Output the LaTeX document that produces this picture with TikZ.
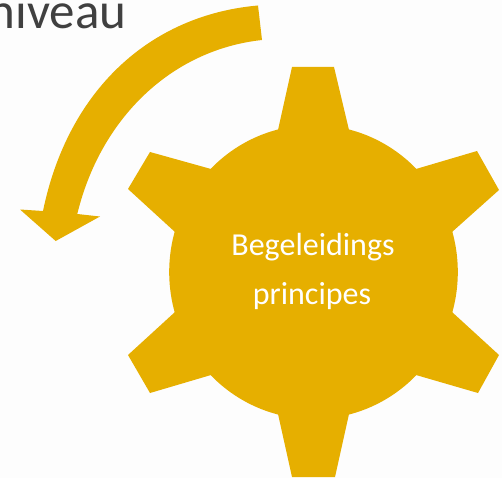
\documentclass[tikz,border=0pt]{standalone}
\usepackage{fontspec}
\setmainfont{Carlito}
\definecolor{gold}{HTML}{E6AF00}
\definecolor{pagebg}{HTML}{FDFDFD}
\definecolor{ink}{HTML}{404040}
\tikzset{shapefill/.style={fill=gold,draw=none},
lbl/.style={text=white,font=\fontsize{32}{36}\selectfont,align=center,inner sep=0pt}}
\begin{document}
\begin{tikzpicture}[x=1pt,y=-1pt]
\useasboundingbox (0,0) rectangle (502,478);
\fill[pagebg] (0,0) rectangle (502,478);
% gear
\path[shapefill] (313.5,272) ellipse [x radius=144.3, y radius=147];
\path[shapefill] (292,67) -- (334,67) -- (349,130) -- (416,169) -- (477,151) -- (499,190) -- (452,232)
 -- (452,312) -- (499,355) -- (478,393) -- (416,375) -- (349,414) -- (335,477) -- (292,477) -- (278,414) -- (211,375) -- (150,393) -- (128,355) -- (175,312) -- (175,232) -- (128,189) -- (150,152) -- (211,169) -- (278,130) -- cycle;
\node[lbl] (t1) at (313,247.5) {Begeleidings};
\node[lbl] (t2) at (312,296.5) {principes};
% arrow
\path[shapefill] (258,5.5) .. controls (150,15) and (68,90) .. (43,211) -- (20,209.5) -- (55.7,241) -- (100,216.5) -- (77.3,214) .. controls (100,120) and (170,50) .. (262,40) -- cycle;
\node[anchor=base east,inner sep=0pt,text=ink,font=\fontsize{51}{55}\selectfont] (t3) at (126.5,29) {niveau};
\end{tikzpicture}
\end{document}
